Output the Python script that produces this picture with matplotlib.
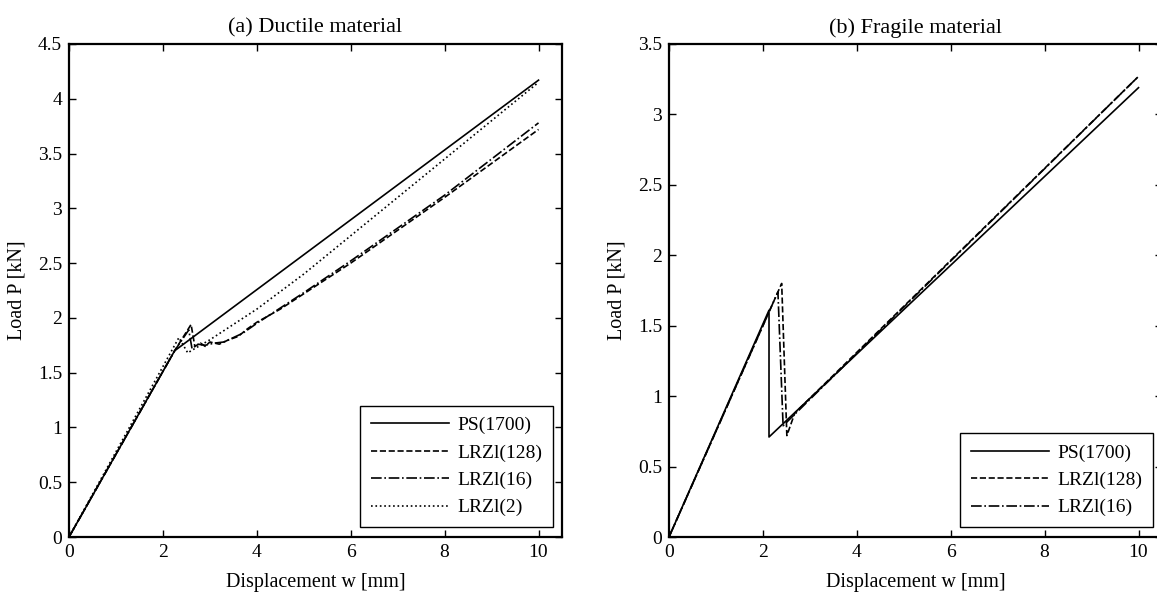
import numpy as np
import matplotlib.pyplot as plt

plt.rcParams['font.family'] = ['Liberation Serif', 'DejaVu Serif']
plt.rcParams['mathtext.fontset'] = 'stix'

# (a) ductile material
w_ps_a = [0, 2.25, 10]
p_ps_a = [0, 1.70, 4.17]
w_128_a = [0, 2.25, 2.6, 2.68, 2.8, 2.9, 3.0, 3.2, 3.4, 3.6, 3.8, 4.0, 4.5, 5, 6, 7, 8, 9, 10]
p_128_a = [0, 1.70, 1.94, 1.74, 1.77, 1.74, 1.78, 1.76, 1.80, 1.83, 1.90, 1.96, 2.08, 2.22, 2.50, 2.80, 3.10, 3.41, 3.72]
w_16_a = [0, 2.25, 2.55, 2.62, 2.75, 2.9, 3.1, 3.3, 3.5, 3.7, 4.0, 4.5, 5, 6, 7, 8, 9, 10]
p_16_a = [0, 1.70, 1.89, 1.72, 1.76, 1.75, 1.77, 1.78, 1.82, 1.86, 1.95, 2.09, 2.23, 2.52, 2.82, 3.12, 3.45, 3.78]
w_2_a = [0, 2.34, 2.53, 2.6, 3.0, 4, 5, 6, 7, 8, 9, 10]
p_2_a = [0, 1.82, 1.68, 1.70, 1.80, 2.08, 2.40, 2.75, 3.10, 3.45, 3.80, 4.15]

# (b) fragile material
w_ps_b = [0, 2.13, 2.13, 10]
p_ps_b = [0, 1.61, 0.71, 3.19]
w_128_b = [0, 2.40, 2.51, 2.68, 10]
p_128_b = [0, 1.80, 0.72, 0.88, 3.27]
w_16_b = [0, 2.32, 2.43, 10]
p_16_b = [0, 1.74, 0.79, 3.27]

labels = ['PS(1700)', 'LRZl(128)', 'LRZl(16)', 'LRZl(2)']

fig = plt.figure(figsize=(11.57, 5.98), dpi=100)
ax1 = fig.add_axes([69/1157, 61/598, 493/1157, 493/598])
ax2 = fig.add_axes([669/1157, 61/598, 493/1157, 493/598])

lw = 1.2
ax1.plot(w_ps_a, p_ps_a, 'k-', lw=lw, label=labels[0])
ax1.plot(w_128_a, p_128_a, 'k--', lw=lw, label=labels[1])
ax1.plot(w_16_a, p_16_a, 'k-.', lw=lw, label=labels[2])
ax1.plot(w_2_a, p_2_a, 'k:', lw=lw, label=labels[3])

ax2.plot(w_ps_b, p_ps_b, 'k-', lw=lw, label=labels[0])
ax2.plot(w_128_b, p_128_b, 'k--', lw=lw, label=labels[1])
ax2.plot(w_16_b, p_16_b, 'k-.', lw=lw, label=labels[2])

ax1.set_ylim(0, 4.5)
ax1.set_yticks(np.arange(0, 4.51, 0.5))
ax1.set_yticklabels(['0', '0.5', '1', '1.5', '2', '2.5', '3', '3.5', '4', '4.5'])
ax2.set_ylim(0, 3.5)
ax2.set_yticks(np.arange(0, 3.51, 0.5))
ax2.set_yticklabels(['0', '0.5', '1', '1.5', '2', '2.5', '3', '3.5'])

titles = ['(a) Ductile material', '(b) Fragile material']
for ax, t in zip([ax1, ax2], titles):
    ax.set_xlim(0, 10.5)
    ax.set_xticks([0, 2, 4, 6, 8, 10])
    ax.tick_params(direction='in', top=True, right=True, length=5, width=1, labelsize=14, pad=5)
    for s in ax.spines.values():
        s.set_linewidth(1.6)
    ax.set_title(t, fontsize=16, pad=8)
    ax.set_xlabel('Displacement w [mm]', fontsize=14.5, labelpad=9)
    ax.set_ylabel('Load P [kN]', fontsize=14.5, labelpad=8)
    leg = ax.legend(loc='lower right', bbox_to_anchor=(0.982, 0.02), borderaxespad=0,
                    fontsize=14, handlelength=4.0, handletextpad=0.45, fancybox=False,
                    framealpha=1, edgecolor='k', labelspacing=0.5, borderpad=0.55)
    leg.get_frame().set_linewidth(1.0)

plt.savefig('out.png', dpi=100)
